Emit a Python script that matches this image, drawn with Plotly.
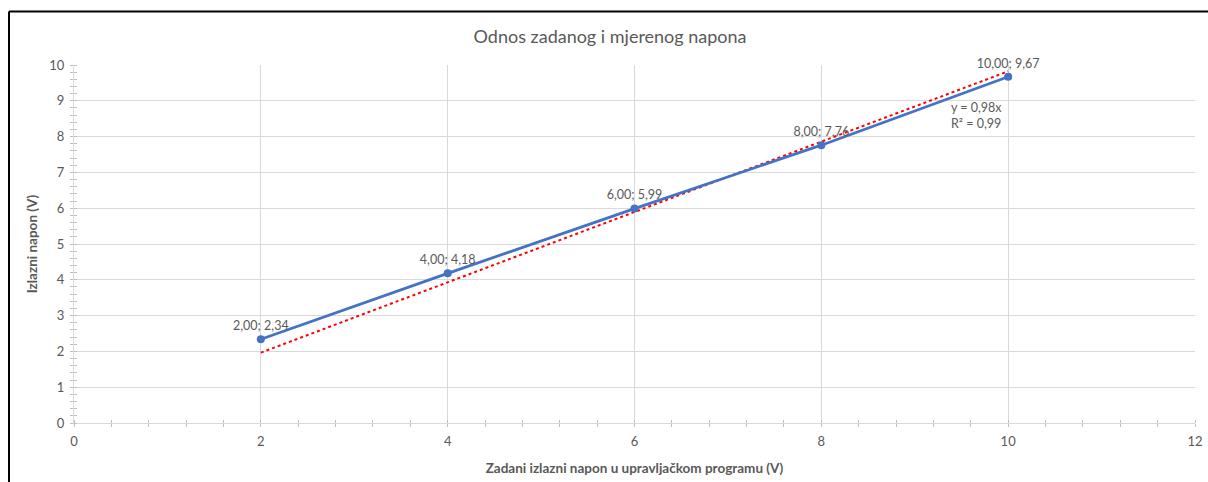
import plotly.graph_objects as go

x_set = [2, 4, 6, 8, 10]
y_meas = [2.34, 4.18, 5.99, 7.76, 9.67]
x_ticks = [0, 2, 4, 6, 8, 10, 12]
y_ticks = list(range(0, 11))

# linear trendline through origin (least squares)
slope = sum(a * b for a, b in zip(x_set, y_meas)) / sum(a * a for a in x_set)
trend_x = [x_set[0], x_set[-1]]
trend_y = [slope * v for v in trend_x]

labels = [f"{a:.2f}; {b:.2f}".replace(".", ",") for a, b in zip(x_set, y_meas)]

FONT = "Lato"
GRAY = "#595959"
TICKC = "#bfbfbf"

fig = go.Figure()
fig.add_trace(go.Scatter(x=trend_x, y=trend_y, mode="lines",
                         line=dict(color="#FF0000", width=2, dash="dot"),
                         hoverinfo="skip", showlegend=False))
fig.add_trace(go.Scatter(x=x_set, y=y_meas, mode="lines+markers+text",
                         line=dict(color="#4472C4", width=2.8),
                         marker=dict(color="#4472C4", size=8),
                         text=labels, textposition="top center", cliponaxis=False,
                         textfont=dict(family=FONT, size=12.5, color=GRAY),
                         showlegend=False))

fig.add_annotation(x=10, y=8.6, xref="x", yref="y", xanchor="right",
                   text="y = 0,98x<br>R² = 0,99", showarrow=False, align="left",
                   xshift=-4, font=dict(family=FONT, size=12.5, color=GRAY))

axis_common = dict(showline=True, linecolor="#d9d9d9", linewidth=1,
                   gridcolor="#d9d9d9", gridwidth=1, zeroline=False,
                   tickfont=dict(family=FONT, size=13, color=GRAY),
                   ticks="", fixedrange=True, automargin=False)

fig.update_xaxes(range=[0, 12], tickvals=x_ticks, ticktext=[str(v) for v in x_ticks],
                 showgrid=True, ticklabelstandoff=6,
                 minor=dict(dtick=0.4, tick0=0, ticks="outside", ticklen=3,
                            tickcolor=TICKC, showgrid=False),
                 title=dict(text="<b>Zadani izlazni napon u upravljačkom programu (V)</b>",
                            font=dict(family=FONT, size=13.5, color=GRAY), standoff=15),
                 **axis_common)
fig.update_yaxes(range=[0, 10], tickvals=y_ticks, ticktext=[str(v) for v in y_ticks],
                 showgrid=True, ticklabelstandoff=6,
                 minor=dict(dtick=0.2, tick0=0, ticks="outside", ticklen=3,
                            tickcolor=TICKC, showgrid=False),
                 title=dict(text="<b>Izlazni napon (V)</b>",
                            font=dict(family=FONT, size=13.5, color=GRAY), standoff=8),
                 **axis_common)

# overlay axes carrying the inner half of the crossing minor ticks
fig.update_layout(
    xaxis2=dict(overlaying="x", anchor="y", side="bottom", range=[0, 12],
                showticklabels=False, showgrid=False, showline=False, zeroline=False,
                tickvals=[], minor=dict(dtick=0.4, tick0=0, ticks="inside", ticklen=3,
                                        tickcolor=TICKC, showgrid=False)),
    yaxis2=dict(overlaying="y", anchor="x", side="left", range=[0, 10],
                showticklabels=False, showgrid=False, showline=False, zeroline=False,
                tickvals=[], minor=dict(dtick=0.2, tick0=0, ticks="inside", ticklen=3,
                                        tickcolor=TICKC, showgrid=False)),
)
fig.add_trace(go.Scatter(x=[None], y=[None], xaxis="x2", yaxis="y2",
                         showlegend=False, hoverinfo="skip"))

# chart frame (left and top edges)
fig.add_shape(type="line", xref="paper", yref="paper",
              x0=(9 - 74) / 1121, x1=1.2, y0=(423 - 11.5) / 358, y1=(423 - 11.5) / 358,
              line=dict(color="black", width=2))
fig.add_shape(type="line", xref="paper", yref="paper",
              x0=(9 - 74) / 1121, x1=(9 - 74) / 1121, y0=-0.5, y1=(423 - 11.5) / 358,
              line=dict(color="black", width=2))

fig.update_layout(
    width=1208, height=482,
    margin=dict(l=74, r=13, t=65, b=59),
    plot_bgcolor="white", paper_bgcolor="white",
    title=dict(text="Odnos zadanog i mjerenog napona", x=0.505, xanchor="center",
               y=1 - 37 / 482, yanchor="middle",
               font=dict(family=FONT, size=18, color=GRAY)),
)

fig.write_html("out.html", config={"displayModeBar": False},
               post_script="document.body.style.margin='0';document.body.style.overflow='hidden';")
